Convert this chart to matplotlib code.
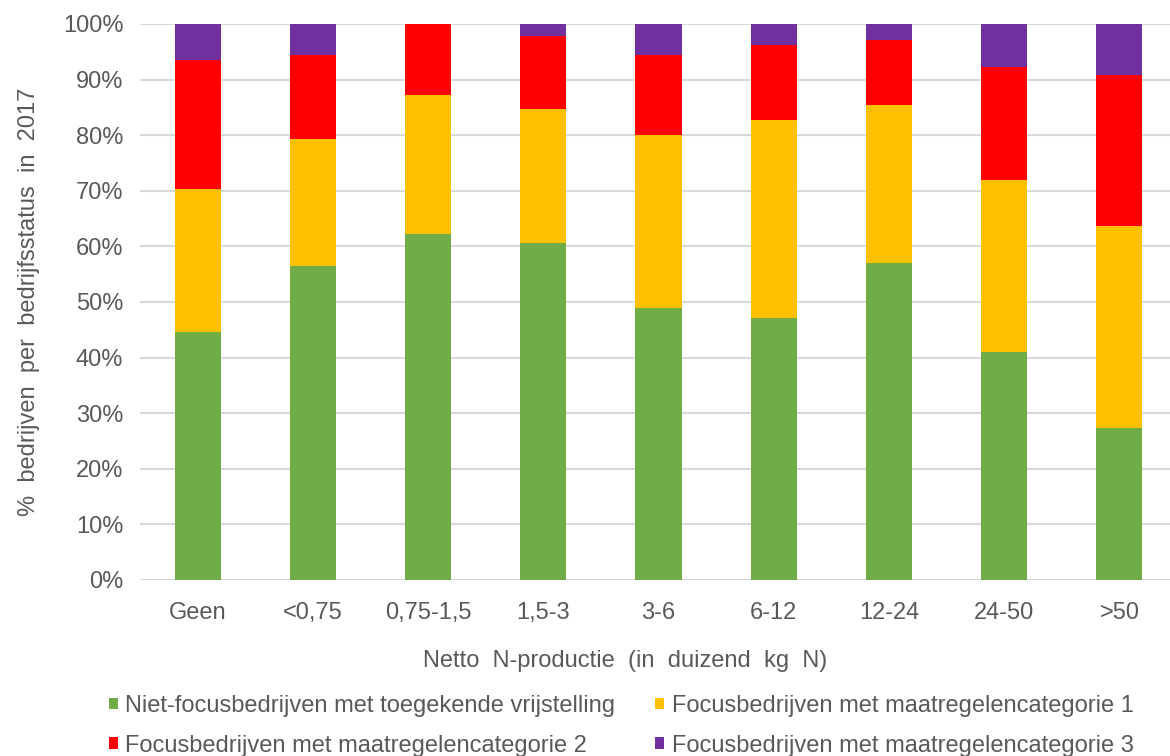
import matplotlib
matplotlib.use("Agg")
import matplotlib.pyplot as plt
import numpy as np

categories = ["Geen", "<0,75", "0,75-1,5", "1,5-3", "3-6", "6-12", "12-24", "24-50", ">50"]
niet_focus = [44.6, 56.4, 62.2, 60.7, 48.9, 47.1, 57.1, 41.0, 27.3]
cat1 = [25.8, 23.0, 25.1, 24.1, 31.2, 35.6, 28.4, 30.9, 36.3]
cat2 = [23.1, 15.1, 12.7, 13.0, 14.4, 13.6, 11.6, 20.4, 27.3]
cat3 = [6.5, 5.5, 0.0, 2.2, 5.5, 3.7, 2.9, 7.7, 9.1]
series_labels = [
    "Niet-focusbedrijven met toegekende vrijstelling",
    "Focusbedrijven met maatregelencategorie 1",
    "Focusbedrijven met maatregelencategorie 2",
    "Focusbedrijven met maatregelencategorie 3",
]
colors = ["#70AD47", "#FFC000", "#FF0000", "#7030A0"]

plt.rcParams['font.family'] = ['Liberation Sans', 'DejaVu Sans']
fig = plt.figure(figsize=(11.7, 7.56), dpi=100)
ax = fig.add_axes([140/1170, 176/756, 1037/1170, 556/756])

x = np.arange(len(categories))
bottom = np.zeros(len(categories))
handles = []
for vals, c, lab in zip([niet_focus, cat1, cat2, cat3], colors, series_labels):
    h = ax.bar(x, vals, 0.4, bottom=bottom, color=c, label=lab, zorder=3)
    handles.append(h)
    bottom += np.array(vals)

ax.set_xlim(-0.5, len(categories) - 0.5)
ax.set_ylim(0, 100)
ax.set_yticks(np.arange(0, 101, 10))
ax.set_yticklabels([f"{v}%" for v in range(0, 101, 10)])
ax.set_xticks(x)
ax.set_xticklabels(categories)
ax.grid(axis='y', color='#d9d9d9', lw=1.5, zorder=0)
for s in ax.spines.values():
    s.set_visible(False)
fs = 17
ax.tick_params(axis='both', length=0, labelsize=fs, colors='#595959')
ax.tick_params(axis='x', pad=16)
ax.tick_params(axis='y', pad=12)

ax.set_ylabel("%  bedrijven  per  bedrijfsstatus  in  2017", fontsize=fs, color='#595959')
ax.yaxis.set_label_coords(-100/1037, 0.5)
ax.set_xlabel("Netto  N-productie  (in  duizend  kg  N)", fontsize=fs, color='#595959')
ax.xaxis.set_label_coords((625 - 140)/1037, -70/556)

order = [0, 2, 1, 3]
fig.legend(handles=[handles[i] for i in order], labels=[series_labels[i] for i in order],
           loc='lower left', bbox_to_anchor=(88/1170, -0.029), ncol=2, frameon=False,
           fontsize=fs, labelcolor='#595959', handlelength=0.38, handleheight=0.38,
           handletextpad=0.3, columnspacing=1.7, labelspacing=0.75)

fig.savefig("out.png", dpi=100)
